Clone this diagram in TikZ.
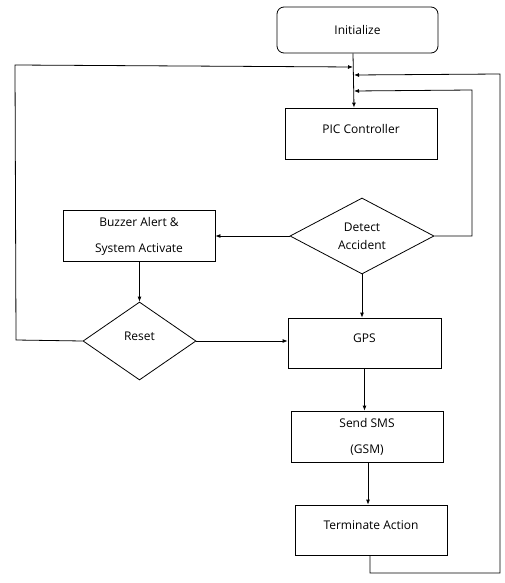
\documentclass[tikz,border=0pt]{standalone}
\usepackage{fontspec}
\setmainfont{Open Sans}
\usetikzlibrary{shapes.geometric,arrows.meta}
\begin{document}
\begin{tikzpicture}[x=1pt,y=-1pt,
  every node/.style={font=\fontsize{12}{26}\selectfont},
  box/.style={draw,line width=0.8pt,minimum width=152pt,minimum height=51pt,align=center,inner sep=0pt},
  rbox/.style={box,rounded corners=7pt,minimum width=161pt,minimum height=46pt},
  dia/.style={draw,line width=0.8pt,diamond,aspect=1.85,inner sep=0pt,align=center},
  conn/.style={line width=0.8pt},
  arr/.style={conn,-{Latex[length=5pt,width=4pt]}}]
\useasboundingbox (0,0) rectangle (505,583);
\node[rbox] (init) at (357.5,30) {Initialize};
\node[box] (pic) at (361,133.5) {PIC Controller\\[-16pt]\mbox{}};
\node[dia,minimum width=144pt,minimum height=76pt] (det) at (362,236) {Detect\\[-8pt]Accident};
\node[box] (buz) at (139,236) {Buzzer Alert \&\\System Activate};
\node[dia,minimum width=113pt,minimum height=78pt] (rst) at (139.5,341) {Reset\\[-16pt]\mbox{}};
\node[box,minimum width=153pt,minimum height=50pt] (gps) at (364.5,343) {GPS\\[-16pt]\mbox{}};
\node[box] (sms) at (367,436.5) {Send SMS\\(GSM)};
\node[box,minimum height=50pt] (term) at (371,530) {Terminate Action\\[-16pt]\mbox{}};
% merge points on main line
\coordinate (m1) at (353,67);
\coordinate (m2) at (354,75);
\coordinate (m3) at (354,91);
\coordinate (l1) at (15,65);
\coordinate (l2) at (16,340);
\coordinate (r1) at (472,90);
\coordinate (r2) at (472,236);
\coordinate (o1) at (500,74);
\coordinate (o2) at (500,573);
\coordinate (o3) at (370,573);
\draw[arr] (init.south -| 353,0) -- (pic.north -| 354,0);
\draw[arr] (rst.west) -- (l2) -- (l1) -- (m1);
\draw[arr] (det.east) -- (r2) -- (r1) -- (m3);
\draw[arr] (term.south -| o3) -- (o3) -- (o2) -- (o1) -- (m2);
\draw[arr] (det.west) -- (buz.east);
\draw[arr] (buz.south -| rst.north) -- (rst.north);
\draw[arr] (rst.east) -- (gps.west |- rst.east);
\draw[arr] (det.south) -- (gps.north -| det.south);
\draw[arr] (gps.south) -- (sms.north -| gps.south);
\draw[arr] (sms.south -| 368,0) -- (term.north -| 368,0);
\end{tikzpicture}
\end{document}
